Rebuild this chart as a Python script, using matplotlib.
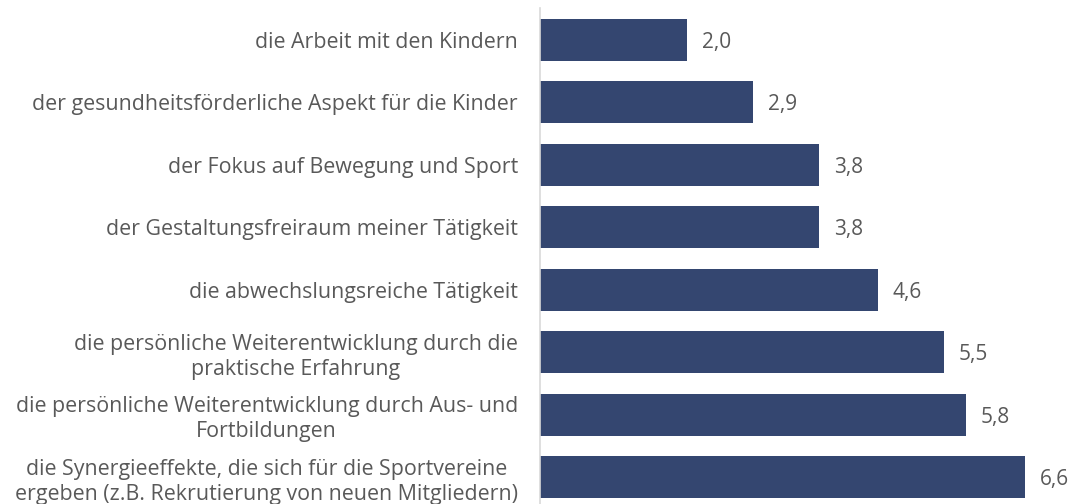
import matplotlib.pyplot as plt

plt.rcParams['font.family'] = ['Open Sans', 'DejaVu Sans']

labels = [
    'die Arbeit mit den Kindern',
    'der gesundheitsförderliche Aspekt für die Kinder',
    'der Fokus auf Bewegung und Sport',
    'der Gestaltungsfreiraum meiner Tätigkeit',
    'die abwechslungsreiche Tätigkeit',
    'die persönliche Weiterentwicklung durch die\npraktische Erfahrung',
    'die persönliche Weiterentwicklung durch Aus- und\nFortbildungen',
    'die Synergieeffekte, die sich für die Sportvereine\nergeben (z.B. Rekrutierung von neuen Mitgliedern)',
]
values = [2.0, 2.9, 3.8, 3.8, 4.6, 5.5, 5.8, 6.6]

text_color = '#595959'
bar_color = '#344670'

fig = plt.figure(figsize=(10.72, 5.04), dpi=100)
ax = fig.add_axes([540 / 1072, -4.5 / 504, 529 / 1072, 500 / 504])

pos = list(range(len(values)))
ax.barh(pos, values, height=0.67, color=bar_color)
for p, v in zip(pos, values):
    ax.text(v + 0.2, p + 0.04, f'{v:.1f}'.replace('.', ','), va='center', ha='left',
            fontsize=15, color=text_color)

ax.set_xlim(0, 7.2)
ax.set_ylim(7.5, -0.5)
ax.set_yticks(pos)
ax.set_yticklabels(labels, fontsize=15.4, color=text_color, multialignment='center',
                   linespacing=1.25)
ax.tick_params(axis='y', length=0, pad=16)
ax.set_xticks([])
for s in ['top', 'right', 'bottom']:
    ax.spines[s].set_visible(False)
ax.spines['left'].set_color('#d9d9d9')
ax.spines['left'].set_linewidth(1.2)

fig.savefig('out.png', dpi=100)
